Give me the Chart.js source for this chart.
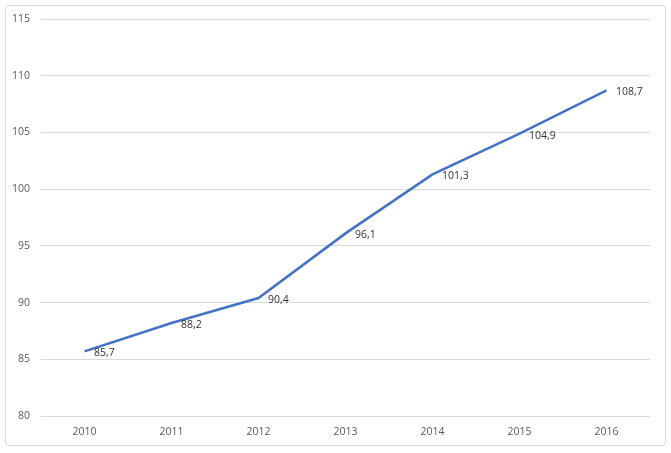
<!DOCTYPE html>
<html>
<head>
<meta charset="utf-8">
<script src="https://cdn.jsdelivr.net/npm/chart.js@4.4.0/dist/chart.umd.min.js"></script>
<style>
  html, body { margin: 0; padding: 0; background: #fff; }
  #wrap { position: relative; width: 671px; height: 453px; }
  #frame {
    position: absolute; left: 5px; top: 5px; width: 659px; height: 439px;
    border: 1px solid #d9d9d9; border-radius: 4px;
  }
  canvas { position: absolute; left: 0; top: 0; }
</style>
</head>
<body>
<div id="wrap">
  <div id="frame"></div>
  <canvas id="chart" width="671" height="453"></canvas>
</div>
<script>
const years = ['2010', '2011', '2012', '2013', '2014', '2015', '2016'];
const values = [85.7, 88.2, 90.4, 96.1, 101.3, 104.9, 108.7];
const yTicks = [80, 85, 90, 95, 100, 105, 110, 115];

const fontFamily = "'Open Sans', 'Noto Sans', sans-serif";

// draws the value next to each point, with a comma as decimal mark
const valueLabels = {
    id: 'valueLabels',
    afterDatasetsDraw(chart) {
        const ctx = chart.ctx;
        const meta = chart.getDatasetMeta(0);
        ctx.save();
        ctx.font = '10.5px ' + fontFamily;
        ctx.fillStyle = '#333333';
        ctx.textAlign = 'left';
        ctx.textBaseline = 'middle';
        meta.data.forEach(function (pt, i) {
            const txt = values[i].toFixed(1).replace('.', ',');
            ctx.fillText(txt, pt.x + 9.5, pt.y + 2);
        });
        ctx.restore();
    }
};

new Chart(document.getElementById('chart').getContext('2d'), {
    type: 'line',
    data: {
        labels: years,
        datasets: [{
            data: values,
            borderColor: '#4472c4',
            borderWidth: 2.5,
            pointRadius: 0,
            tension: 0,
            fill: false
        }]
    },
    options: {
        responsive: false,
        animation: false,
        layout: { padding: { top: 19, left: 0, right: 21, bottom: 0 } },
        plugins: {
            legend: { display: false },
            tooltip: { enabled: false }
        },
        scales: {
            x: {
                offset: true,
                grid: { display: false, drawTicks: false },
                border: { display: false },
                ticks: {
                    color: '#595959',
                    padding: 10,
                    font: { family: fontFamily, size: 10.5 }
                },
                afterFit(scale) { scale.height = 37; }
            },
            y: {
                min: 80,
                max: 115,
                afterBuildTicks(scale) {
                    scale.ticks = yTicks.map(v => ({ value: v }));
                },
                grid: { color: '#d9d9d9', drawTicks: false, lineWidth: 1 },
                border: { display: false },
                ticks: {
                    color: '#595959',
                    padding: 11,
                    font: { family: fontFamily, size: 10.5 }
                },
                afterFit(scale) { scale.width = 41; }
            }
        }
    },
    plugins: [valueLabels]
});
</script>
</body>
</html>
